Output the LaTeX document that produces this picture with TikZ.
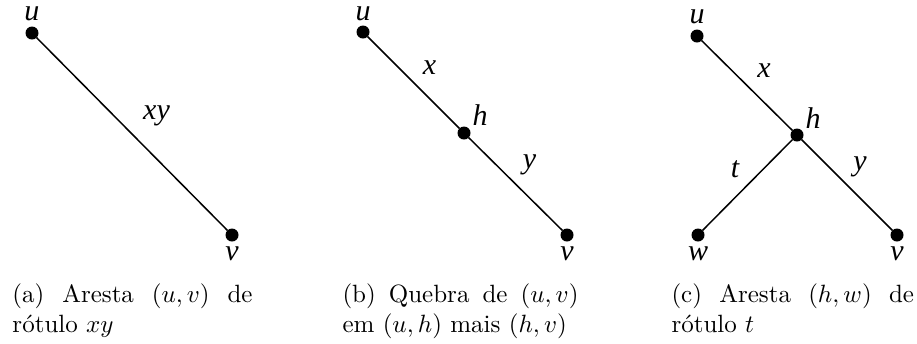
\documentclass[tikz,border=0pt]{standalone}
\usepackage{fontspec}
\newfontfamily\lblfont{Liberation Serif}
\usetikzlibrary{positioning}

\begin{document}
\begin{tikzpicture}[
  x=0.4pt, y=0.4pt,
  vtx/.style={circle, fill=black, inner sep=0pt, outer sep=0pt, minimum size=5.2pt},
  vlbl/.style={font={\lblfont\itshape\fontsize{12}{14}\selectfont}, inner sep=0pt, anchor=base},
  hlbl/.style={vlbl, anchor=base west},
  edg/.style={line width=0.6pt},
  capt/.style={text width=96pt, inner sep=0pt, anchor=base west, align=justify},
]
\useasboundingbox (0,0) rectangle (917,343);

% ---- (a) original edge ----
\node[vtx] (ua) at (32,310) {};
\node[vtx] (va) at (232,108) {};
\node[vlbl] (lua) at ([yshift=5pt]ua.center) {u};
\node[vlbl] (lva) at ([yshift=-10.2pt]va.center) {v};
\draw[edg] (ua) -- node[vlbl, xshift=9.8pt, yshift=6pt] {xy} (va);
\node[capt] (capa) at (12,41) {(a) Aresta $(u,v)$ de\linebreak rótulo $xy$};

% ---- (b) edge split at h ----
\node[vtx] (ub) at (363,311) {};
\node[vtx] (hb) at (464,210) {};
\node[vtx] (vb) at (567,108) {};
\node[vlbl] (lub) at ([yshift=4.8pt]ub.center) {u};
\node[hlbl] (lhb) at ([xshift=3.2pt, yshift=3pt]hb.center) {h};
\node[vlbl] (lvb) at ([yshift=-10.2pt]vb.center) {v};
\draw[edg] (ub) -- node[vlbl, xshift=6.4pt, yshift=3.4pt] {x} (hb);
\draw[edg] (hb) -- node[vlbl, xshift=5.6pt, yshift=6.2pt] {y} (vb);
\node[capt, text width=94.4pt] (capb) at (342,41)
     {\parfillskip=0pt (b) Quebra de $(u,v)$\linebreak em $(u,h)$ mais $(h,v)$};

% ---- (c) new edge (h,w) ----
\node[vtx] (uc) at (697,307) {};
\node[vtx] (hc) at (797,208) {};
\node[vtx] (wc) at (698,108) {};
\node[vtx] (vc) at (897,108) {};
\node[vlbl] (luc) at ([yshift=5.2pt]uc.center) {u};
\node[hlbl] (lhc) at ([xshift=3.2pt, yshift=2.8pt]hc.center) {h};
\node[vlbl] (lwc) at ([yshift=-10.2pt]wc.center) {w};
\node[vlbl] (lvc) at ([yshift=-10.2pt]vc.center) {v};
\draw[edg] (uc) -- node[vlbl, xshift=6.8pt, yshift=3.4pt] {x} (hc);
\draw[edg] (hc) -- node[vlbl, xshift=-5pt, yshift=3pt] {t} (wc);
\draw[edg] (hc) -- node[vlbl, xshift=5.2pt, yshift=5.8pt] {y} (vc);
\node[capt, text width=97pt] (capc) at (671,41) {(c) Aresta $(h,w)$ de\linebreak rótulo $t$};
\end{tikzpicture}
\end{document}
